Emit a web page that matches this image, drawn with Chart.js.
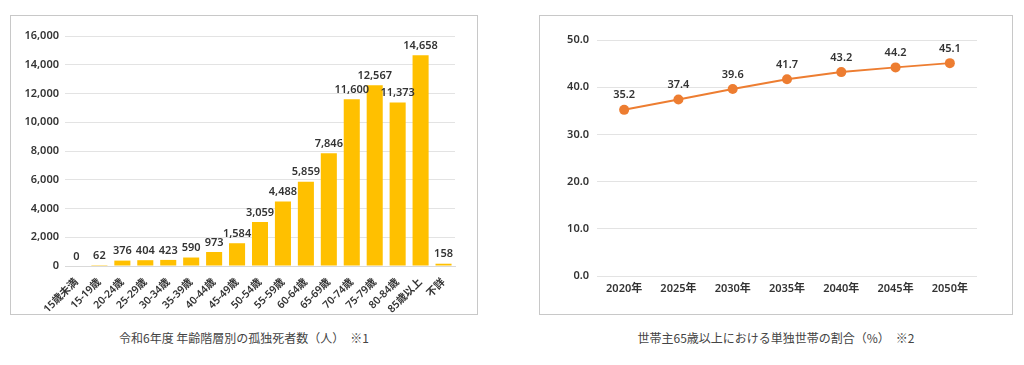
<!DOCTYPE html>
<html>
<head>
<meta charset="utf-8">
<script src="https://cdn.jsdelivr.net/npm/chart.js@4"></script>
<style>
  body { margin: 0; background: #fff; width: 1024px; height: 365px; position: relative; overflow: hidden; }
  .box { position: absolute; border: 1px solid #c8c8c8; box-sizing: border-box; background: #fff; }
  .caption { position: absolute; font-family: 'Noto Sans CJK JP', sans-serif; font-size: 12px; color: #444; text-align: center; }
</style>
</head>
<body>
<div class="box" style="left:10px; top:15px; width:468px; height:300px;"><canvas id="barChart"></canvas></div>
<div class="box" style="left:539px; top:15px; width:474px; height:300px;"><canvas id="lineChart"></canvas></div>
<div class="caption" style="left:10px; top:329px; width:468px;">令和6年度 年齢階層別の孤独死者数（人）　※1</div>
<div class="caption" style="left:539px; top:329px; width:474px;">世帯主65歳以上における単独世帯の割合（%）　※2</div>
<script>
const ageGroups = ['15歳未満', '15-19歳', '20-24歳', '25-29歳', '30-34歳', '35-39歳', '40-44歳', '45-49歳', '50-54歳', '55-59歳', '60-64歳', '65-69歳', '70-74歳', '75-79歳', '80-84歳', '85歳以上', '不詳'];
const deaths = [0, 62, 376, 404, 423, 590, 973, 1584, 3059, 4488, 5859, 7846, 11600, 12567, 11373, 14658, 158];
const years = ['2020年', '2025年', '2030年', '2035年', '2040年', '2045年', '2050年'];
const singleRate = [35.2, 37.4, 39.6, 41.7, 43.2, 44.2, 45.1];

Chart.defaults.font.family = "'Noto Sans', 'Noto Sans CJK JP', sans-serif";
Chart.defaults.color = '#333';
Chart.defaults.animation = false;

// draw the value above each bar / point
const valueLabels = {
  id: 'valueLabels',
  afterDatasetsDraw(chart, args, opts) {
    const ctx = chart.ctx;
    const meta = chart.getDatasetMeta(0);
    const values = chart.data.datasets[0].data;
    ctx.save();
    ctx.font = '600 11px ' + Chart.defaults.font.family;
    ctx.fillStyle = '#333';
    ctx.textAlign = 'center';
    ctx.textBaseline = 'bottom';
    meta.data.forEach((el, i) => {
      ctx.fillText(opts.format(values[i]), el.x, el.y - opts.offset);
    });
    ctx.restore();
  }
};

let ctx = document.getElementById('barChart').getContext('2d');
let barChart = new Chart(ctx, {
  type: 'bar',
  data: {
    labels: ageGroups,
    datasets: [{
      data: deaths,
      backgroundColor: '#FFC000',
      barPercentage: 0.7,
      categoryPercentage: 1.0
    }]
  },
  options: {
    responsive: true,
    maintainAspectRatio: false,
    layout: { padding: { top: 20, right: 22, left: 0, bottom: 0 } },
    plugins: {
      legend: { display: false },
      tooltip: { enabled: false },
      valueLabels: { offset: 4, format: v => v.toLocaleString('en-US') }
    },
    scales: {
      x: {
        grid: { display: false },
        border: { color: '#d9d9d9' },
        ticks: { minRotation: 45, maxRotation: 45, autoSkip: false, padding: 2, font: { size: 10.5, weight: '600' } },
        afterFit(scale) { scale.height = 48; }
      },
      y: {
        min: 0,
        max: 16000,
        grid: { color: '#e3e3e3', drawTicks: false },
        border: { display: false },
        ticks: { stepSize: 2000, padding: 6, font: { size: 11, weight: '600' }, callback: v => v.toLocaleString('en-US') },
        afterFit(scale) { scale.width = 54; }
      }
    }
  },
  plugins: [valueLabels]
});

ctx = document.getElementById('lineChart').getContext('2d');
let lineChart = new Chart(ctx, {
  type: 'line',
  data: {
    labels: years,
    datasets: [{
      data: singleRate,
      borderColor: '#ED7D31',
      backgroundColor: '#ED7D31',
      borderWidth: 2,
      pointRadius: 5,
      pointBorderWidth: 0,
      tension: 0
    }]
  },
  options: {
    responsive: true,
    maintainAspectRatio: false,
    layout: { padding: { top: 24, right: 35, left: 0, bottom: 0 } },
    plugins: {
      legend: { display: false },
      tooltip: { enabled: false },
      valueLabels: { offset: 9, format: v => v.toFixed(1) }
    },
    scales: {
      x: {
        offset: true,
        grid: { display: false, drawTicks: false },
        border: { display: false },
        ticks: { padding: 6, font: { size: 11, weight: '600' } },
        afterFit(scale) { scale.height = 38; }
      },
      y: {
        min: 0,
        max: 50,
        grid: { color: '#e3e3e3', drawTicks: false },
        border: { display: false },
        ticks: { stepSize: 10, padding: 8, font: { size: 11, weight: '600' }, callback: v => v.toFixed(1) },
        afterFit(scale) { scale.width = 57; }
      }
    }
  },
  plugins: [valueLabels]
});
</script>
</body>
</html>
